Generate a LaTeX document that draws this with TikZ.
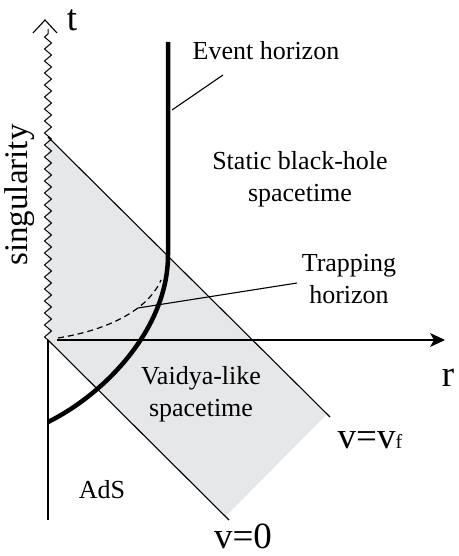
\documentclass[tikz,border=0pt]{standalone}
\usepackage{fontspec}
\setmainfont{Liberation Serif}
\usetikzlibrary{arrows.meta,decorations.pathmorphing}
\definecolor{collapse}{RGB}{230,231,233}

\begin{document}
\begin{tikzpicture}[x=1pt,y=1pt,>=Stealth,
  lab/.style={font=\fontsize{26}{32}\selectfont,align=center,inner sep=0pt},
  big/.style={font=\fontsize{37}{40}\selectfont,inner sep=0pt},
  thin/.style={line width=1.1pt},
  horizon/.style={line width=4.5pt},
  trap/.style={line width=1.2pt,dash pattern=on 6pt off 4pt},
  sing/.style={line width=1pt,decorate,decoration={zigzag,segment length=12pt,amplitude=3.5pt}}]
\useasboundingbox (-48,-216) rectangle (410,340);
% the shell between v=0 and v=v_f
\coordinate (O) at (0,0);
\coordinate (S) at (0,203);
\coordinate (v0end) at (181,-180);
\coordinate (vfend) at (282,-77);
\fill[collapse] (S) -- (O) -- (177,-177) -- (278,-75) -- cycle;
\draw[thin] (O) -- (v0end);
\draw[thin] (S) -- (vfend);
% axes
\coordinate (down) at (0,-180);
\coordinate (rstart) at (9,0);
\coordinate (rend) at (397,0);
\coordinate (ttop) at (0,311);
\draw[thin] (O) -- (down);
\draw[thin,-{Stealth[length=15pt,width=14pt,inset=4pt]}] (rstart) -- (rend);
\draw[sing] (O) -- (ttop);
\draw[thin] (-15,307) -- (-3,320) -- (9,307);
% horizons
\coordinate (ehtop) at (120,298);
\coordinate (ehbend) at (120,85);
\coordinate (ehend) at (0,-82);
\draw[horizon] (ehtop) -- (ehbend) .. controls (120,10) and (55,-55) .. (ehend);
\coordinate (thstart) at (10,2);
\coordinate (thend) at (113,60);
\draw[trap] (thstart) .. controls (60,10) and (100,30) .. (thend);
% labels
\node[lab] (evlab) at (218,289) {Event horizon};
\node[lab] (stlab) at (252,161) {Static black-hole\\spacetime};
\node[lab] (trlab) at (301,61) {Trapping\\horizon};
\node[lab] (vdlab) at (153,-54) {Vaidya-like\\spacetime};
\node[lab] (adslab) at (54,-150) {AdS};
\node[lab,rotate=90,font=\fontsize{33}{36}\selectfont] (sglab) at (-28,145) {singularity};
\node[big] (tlab) at (24,320) {t};
\node[big] (rlab) at (400,-38) {r};
\node[big] (v0lab) at (195,-196) {v=0};
\node[big] (vflab) at (322,-100) {v=v{\fontsize{20}{20}\selectfont f}};
% pointers
\coordinate (evpt) at (124,230);
\coordinate (evfoot) at (175,265);
\coordinate (trpt) at (90,32);
\coordinate (trfoot) at (249,57);
\draw[thin] (evfoot) -- (evpt);
\draw[thin] (trfoot) -- (trpt);
\end{tikzpicture}
\end{document}
